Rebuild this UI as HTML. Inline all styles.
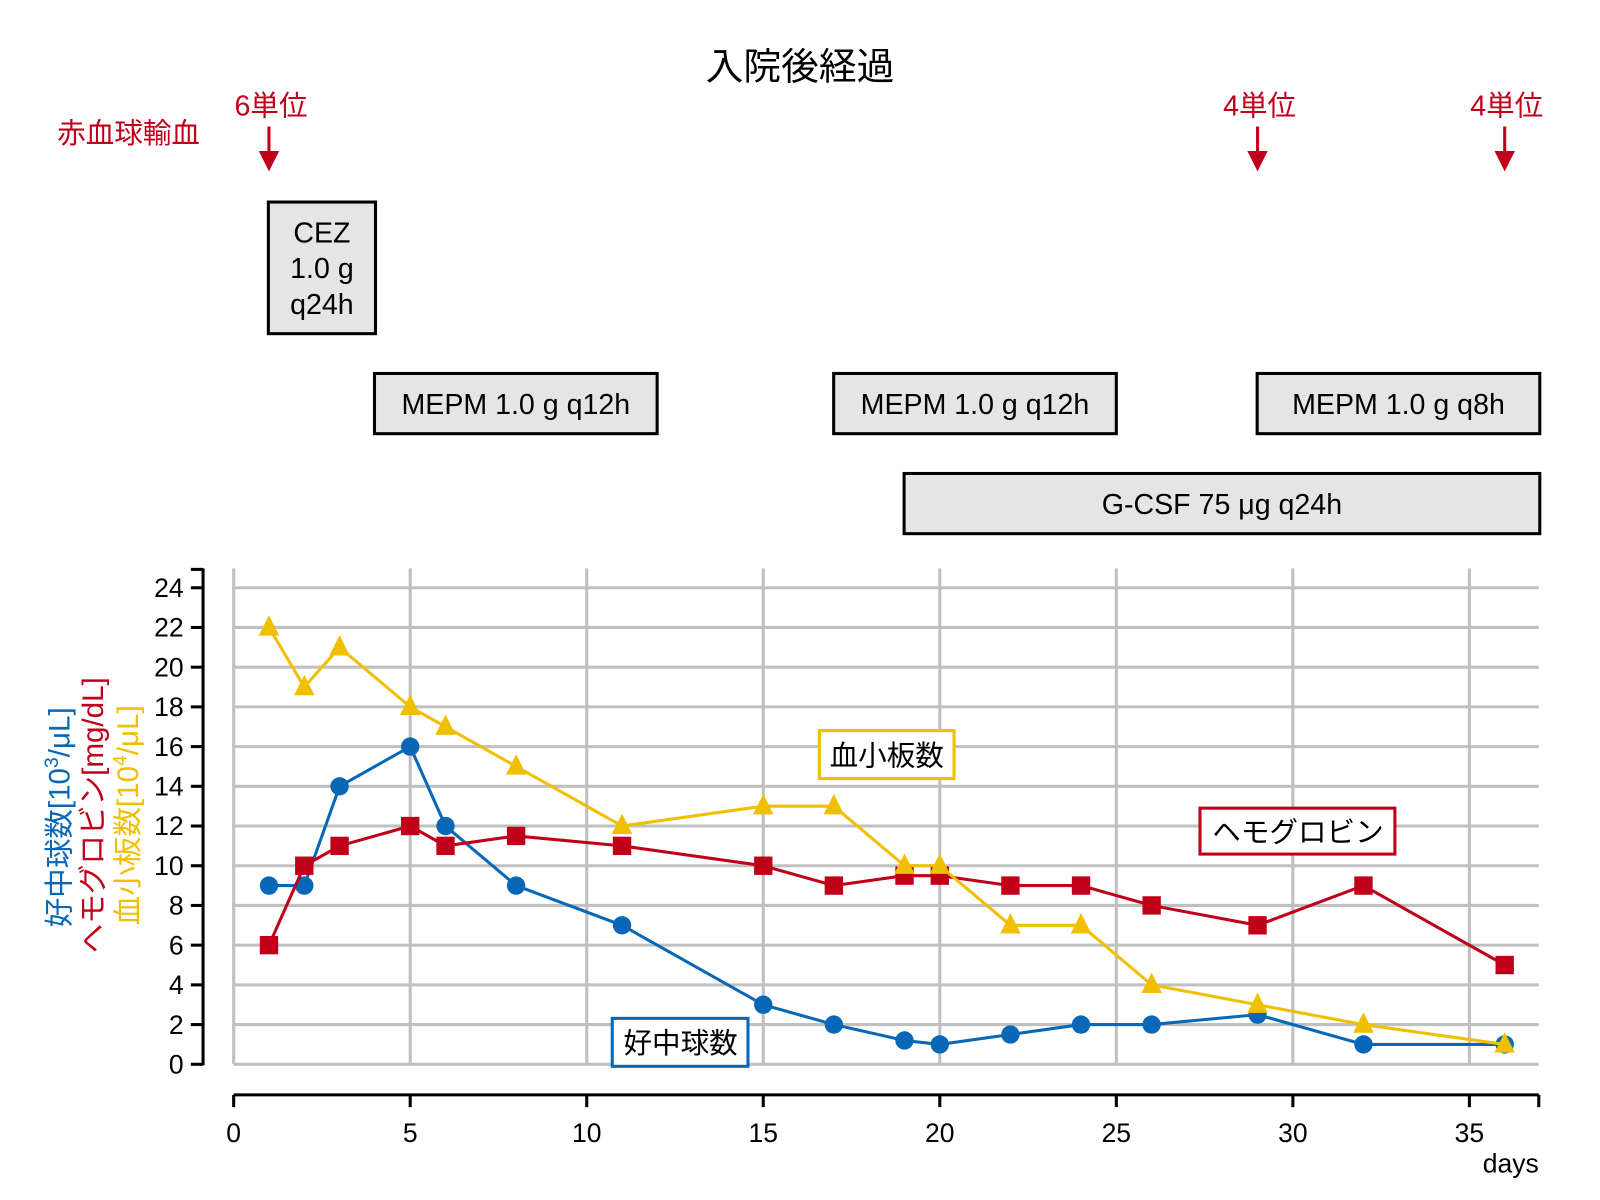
<!DOCTYPE html>
<html><head><meta charset="utf-8"><style>
body{margin:0;background:#fff}
svg{display:block;font-family:"Liberation Sans","Noto Sans CJK JP",sans-serif}
</style></head><body>
<svg id="chart" width="1600" height="1200" viewBox="0 0 1568 1176" xmlns="http://www.w3.org/2000/svg">
<rect width="1568" height="1176" fill="#fff"/>
<text x="784" y="78" font-size="37" text-anchor="middle">入院後経過</text>
<text x="126" y="140" font-size="28" fill="#c0001a" text-anchor="middle">赤血球輸血</text>
<g id="transfusions" fill="#c0001a"></g>
<g id="boxes"></g>
<g id="grid" stroke="#c0c0c0" stroke-width="3"></g>
<g id="axes"></g>
<g id="series"></g>
<g font-size="29">
<text transform="translate(68,801) rotate(-90)" text-anchor="middle" fill="#0868b7">好中球数[10<tspan dy="-11" font-size="19">3</tspan><tspan dy="11">/μL]</tspan></text>
<text transform="translate(101,799) rotate(-90)" text-anchor="middle" fill="#c0001a">ヘモグロビン[mg/dL]</text>
<text transform="translate(135,799) rotate(-90)" text-anchor="middle" fill="#f0c000">血小板数[10<tspan dy="-11" font-size="19">4</tspan><tspan dy="11">/μL]</tspan></text>
</g>
<g><rect x="803" y="716" width="132" height="47" fill="#fff" stroke="#f0c000" stroke-width="3"/><text x="869" y="750" font-size="28" text-anchor="middle">血小板数</text></g>
<g><rect x="1176" y="792" width="191" height="45" fill="#fff" stroke="#c0001a" stroke-width="3"/><text x="1272" y="825" font-size="28" text-anchor="middle">ヘモグロビン</text></g>
<g><rect x="600" y="998" width="133" height="47" fill="#fff" stroke="#0868b7" stroke-width="3"/><text x="667" y="1032" font-size="28" text-anchor="middle">好中球数</text></g>
<text x="1508" y="1149" font-size="26" text-anchor="end">days</text>
</svg>
<script>
const days = [1,2,3,5,6,8,11,15,17,19,20,22,24,26,29,32,36];
const neutrophil = [9,9,14,16,12,9,7,3,2,1.2,1,1.5,2,2,2.5,1,1];
const hemoglobin = [6,10,11,12,11,11.5,11,10,9,9.5,9.5,9,9,8,7,9,5];
const platelet = [22,19,21,18,17,15,12,13,13,10,10,7,7,4,3,2,1];
const xTicks = [0,5,10,15,20,25,30,35];
const yTicks = [0,2,4,6,8,10,12,14,16,18,20,22,24];
const transfusionDays = [1,29,36];
const transfusionLabels = ["6単位","4単位","4単位"];

const NS="http://www.w3.org/2000/svg";
const X=d=>229+d*(1440-229)/35;
const Y=v=>1043-v*(1043-576)/24;
function mk(tag,attrs,parent){const e=document.createElementNS(NS,tag);for(const k in attrs)e.setAttribute(k,attrs[k]);parent.appendChild(e);return e;}
const grid=document.getElementById('grid'),axes=document.getElementById('axes'),series=document.getElementById('series');
for(const t of yTicks){const l=mk('line',{x1:229,x2:1508,y1:Y(t),y2:Y(t)},grid);

}
for(const t of xTicks){const l=mk('line',{x1:X(t),x2:X(t),y1:557,y2:1043},grid);

}
mk('line',{x1:199,x2:199,y1:557,y2:1044,stroke:'#000','stroke-width':3},axes);
mk('line',{x1:187,x2:199,y1:558,y2:558,stroke:'#000','stroke-width':3},axes);
for(const t of yTicks){mk('line',{x1:187,x2:199,y1:Y(t),y2:Y(t),stroke:'#000','stroke-width':3},axes);
const tx=mk('text',{x:180,y:Y(t)+9,'font-size':26,'text-anchor':'end'},axes);tx.textContent=t;

}
mk('line',{x1:229,x2:1508,y1:1073,y2:1073,stroke:'#000','stroke-width':3},axes);
mk('line',{x1:1508,x2:1508,y1:1073,y2:1085,stroke:'#000','stroke-width':3},axes);
for(const t of xTicks){mk('line',{x1:X(t),x2:X(t),y1:1073,y2:1085,stroke:'#000','stroke-width':3},axes);
const tx=mk('text',{x:X(t),y:1119,'font-size':26,'text-anchor':'middle'},axes);tx.textContent=t;

}
const tr=document.getElementById('transfusions');
transfusionDays.forEach((d,i)=>{const x=X(d);
const t=mk('text',{x:x+2,y:113,'font-size':28,'text-anchor':'middle'},tr);t.textContent=transfusionLabels[i];


const l=mk('line',{x1:x,x2:x,y1:124,y2:150,stroke:'#c0001a','stroke-width':3},tr);


mk('polygon',{points:`${x-10},148 ${x+10},148 ${x},168`},tr);});
const boxes=document.getElementById('boxes');
function box(name,x1,y1,x2,y2,lines){const g=mk('g',{},boxes);


mk('rect',{x:x1,y:y1,width:x2-x1,height:y2-y1,fill:'#e5e5e5',stroke:'#000','stroke-width':3},g);
const cy=(y1+y2)/2,lh=35;lines.forEach((s,i)=>{const t=mk('text',{x:(x1+x2)/2,y:cy+(i-(lines.length-1)/2)*lh+10,'font-size':28,'text-anchor':'middle'},g);t.textContent=s;});}
box('cez-box',263,198,368,327,['CEZ','1.0 g','q24h']);
box('mepm-box-1',367,366,644,425,['MEPM 1.0 g q12h']);
box('mepm-box-2',817,366,1094,425,['MEPM 1.0 g q12h']);
box('mepm-box-3',1232,366,1509,425,['MEPM 1.0 g q8h']);
box('gcsf-box',886,464,1509,523,['G-CSF 75 μg q24h']);
function line(vals,color,name,marker){const g=mk('g',{},series);


mk('polyline',{points:days.map((d,i)=>X(d)+','+Y(vals[i])).join(' '),fill:'none',stroke:color,'stroke-width':3},g);
days.forEach((d,i)=>{const x=X(d),y=Y(vals[i]);let m;
if(marker==='c')m=mk('circle',{cx:x,cy:y,r:9,fill:color},g);
else if(marker==='s')m=mk('rect',{x:x-9,y:y-9,width:18,height:18,fill:color},g);
else m=mk('polygon',{points:`${x},${y-12} ${x-10},${y+8} ${x+10},${y+8}`,fill:color},g);

});}
line(neutrophil,'#0868b7','neutrophil-series','c');
line(hemoglobin,'#c0001a','hemoglobin-series','s');
line(platelet,'#f0c000','platelet-series','t');
</script>
</body></html>
